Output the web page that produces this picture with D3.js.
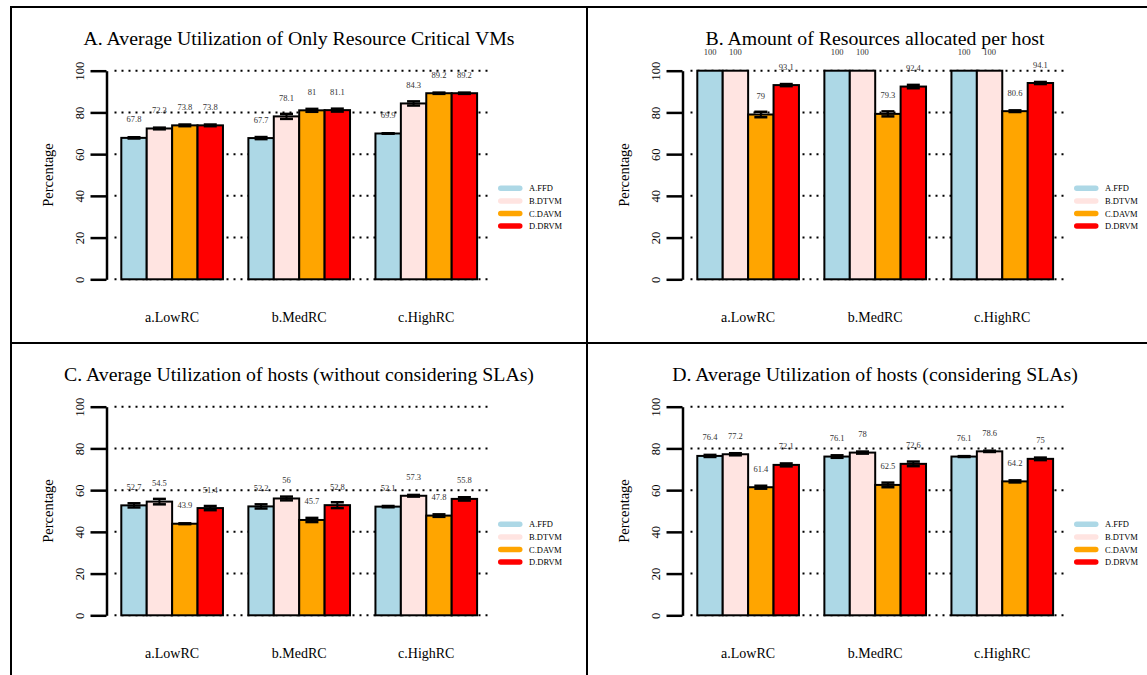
<!DOCTYPE html>
<html>
<head>
<meta charset="utf-8">
<script src="https://cdn.jsdelivr.net/npm/d3@7"></script>
<style>
  body { margin: 0; background: #fff; }
  svg text { font-family: "Liberation Serif", "Times New Roman", serif; }
</style>
</head>
<body>
<svg id="chart" width="1147" height="675"></svg>
<script>
'use strict';

var groups = ["a.LowRC", "b.MedRC", "c.HighRC"];
var series = ["A.FFD", "B.DTVM", "C.DAVM", "D.DRVM"];
var colors = ["#ADD8E6", "#FFE4E1", "#FFA500", "#FF0000"];
var yTicks = [0, 20, 40, 60, 80, 100];

var titles = [
  "A. Average Utilization of Only Resource Critical VMs",
  "B. Amount of Resources allocated per host",
  "C. Average Utilization of hosts (without considering SLAs)",
  "D. Average Utilization of hosts (considering SLAs)"
];

// rows = groups, columns = series
var valuesA = [[67.8, 72.3, 73.8, 73.8], [67.7, 78.1, 81, 81.1], [69.9, 84.3, 89.2, 89.2]];
var errorsA = [[0.3, 0.4, 0.4, 0.4], [0.5, 1.2, 0.7, 0.7], [0.1, 1.0, 0.3, 0.3]];
var valuesB = [[100, 100, 79, 93.1], [100, 100, 79.3, 92.4], [100, 100, 80.6, 94.1]];
var errorsB = [[0, 0, 1.3, 0.5], [0, 0, 1.2, 0.8], [0, 0, 0.4, 0.5]];
var valuesC = [[52.7, 54.5, 43.9, 51.4], [52.2, 56, 45.7, 52.8], [52.1, 57.3, 47.8, 55.8]];
var errorsC = [[1.0, 1.3, 0.2, 1.0], [1.0, 0.9, 1.0, 1.4], [0.3, 0.4, 0.6, 0.8]];
var valuesD = [[76.4, 77.2, 61.4, 72.1], [76.1, 78, 62.5, 72.6], [76.1, 78.6, 64.2, 75]];
var errorsD = [[0.5, 0.5, 0.7, 0.7], [0.6, 0.5, 1.1, 1.1], [0.2, 0.3, 0.5, 0.6]];

var panelValues = [valuesA, valuesB, valuesC, valuesD];
var panelErrors = [errorsA, errorsB, errorsC, errorsD];

var svg = d3.select("#chart");
var panelW = 576, panelH = 336;

var draw_panel = function(k) {
  var px = 11 + panelW * (k % 2);
  var py = 7 + panelH * Math.floor(k / 2);
  var vals = panelValues[k], errs = panelErrors[k];

  var g = svg.append("g").attr("transform", "translate(" + px + "," + py + ")");

  var y = d3.scaleLinear().domain([0, 100]).range([272.3, 63.7]);
  var x0 = d3.scaleBand().domain(groups).range([110.3, 466.1]).paddingInner(0.2);
  var x1 = d3.scaleBand().domain(series).range([0, x0.bandwidth()]);

  // dotted grid
  g.selectAll(".grid")
    .data(yTicks)
  .enter().append("line")
    .attr("class", "grid")
    .attr("x1", 103.5).attr("x2", 478)
    .attr("y1", function(d) { return y(d); })
    .attr("y2", function(d) { return y(d); })
    .attr("stroke", "#000")
    .attr("stroke-width", 2)
    .attr("stroke-dasharray", "2,5");

  // y axis
  var ax = g.append("g")
    .attr("transform", "translate(95.5,0)")
    .call(d3.axisLeft(y).tickValues(yTicks).tickSize(16).tickSizeOuter(0))
    .attr("font-family", null);
  ax.select(".domain").attr("stroke-width", 2.5);
  ax.selectAll(".tick line").attr("stroke-width", 2.5);
  ax.selectAll(".tick text")
    .attr("x", null).attr("dy", null)
    .attr("transform", "translate(-26.5,0) rotate(-90)")
    .attr("text-anchor", "middle")
    .attr("dominant-baseline", "central")
    .style("font-family", "'Liberation Serif', serif")
    .style("font-size", "12.5px")
    .attr("fill", "#000");

  // bars
  var bars = [];
  groups.forEach(function(grp, i) {
    series.forEach(function(s, j) {
      bars.push({grp: grp, s: s, j: j, v: vals[i][j], e: errs[i][j]});
    });
  });

  var bx = function(d) { return x0(d.grp) + x1(d.s); };
  var bw = x1.bandwidth();

  g.selectAll(".bar")
    .data(bars)
  .enter().append("rect")
    .attr("class", "bar")
    .attr("x", bx)
    .attr("y", function(d) { return y(d.v); })
    .attr("width", bw)
    .attr("height", function(d) { return y(0) - y(d.v); })
    .attr("fill", function(d) { return colors[d.j]; })
    .attr("stroke", "#000")
    .attr("stroke-width", 2);

  // error bars
  var eb = g.selectAll(".err")
    .data(bars.filter(function(d) { return d.e > 0; }))
  .enter().append("g").attr("class", "err");
  eb.append("line")
    .attr("x1", function(d) { return bx(d) + bw / 2; })
    .attr("x2", function(d) { return bx(d) + bw / 2; })
    .attr("y1", function(d) { return y(d.v - d.e); })
    .attr("y2", function(d) { return y(d.v + d.e); })
    .attr("stroke", "#000").attr("stroke-width", 2);
  [-1, 1].forEach(function(sg) {
    eb.append("line")
      .attr("x1", function(d) { return bx(d) + bw / 2 - 6.5; })
      .attr("x2", function(d) { return bx(d) + bw / 2 + 6.5; })
      .attr("y1", function(d) { return y(d.v + sg * d.e); })
      .attr("y2", function(d) { return y(d.v + sg * d.e); })
      .attr("stroke", "#000").attr("stroke-width", 2.5);
  });

  // value labels
  g.selectAll(".vlab")
    .data(bars)
  .enter().append("text")
    .attr("class", "vlab")
    .attr("x", function(d) { return bx(d) + bw / 2; })
    .attr("y", function(d) { return y(d.v) - 18.5; })
    .attr("text-anchor", "middle")
    .attr("dominant-baseline", "central")
    .attr("font-size", 8.5)
    .attr("fill", "#333")
    .text(function(d) { return d.v; });

  // group labels
  g.selectAll(".glab")
    .data(groups)
  .enter().append("text")
    .attr("class", "glab")
    .attr("x", function(d) { return x0(d) + x0.bandwidth() / 2; })
    .attr("y", 310)
    .attr("text-anchor", "middle")
    .attr("dominant-baseline", "central")
    .attr("font-size", 14)
    .text(function(d) { return d; });

  // title
  g.append("text")
    .attr("x", 288).attr("y", 31)
    .attr("text-anchor", "middle")
    .attr("dominant-baseline", "central")
    .attr("font-size", 19.8)
    .text(titles[k]);

  // y label
  g.append("text")
    .attr("transform", "translate(37,168) rotate(-90)")
    .attr("text-anchor", "middle")
    .attr("dominant-baseline", "central")
    .attr("font-size", 14.5)
    .text("Percentage");

  // legend
  var lg = g.selectAll(".leg")
    .data(series)
  .enter().append("g")
    .attr("class", "leg")
    .attr("transform", function(d, i) { return "translate(487," + (181.3 + i * 12.6) + ")"; });
  lg.append("rect")
    .attr("x", 0).attr("y", -2.75)
    .attr("width", 24.5).attr("height", 5.5)
    .attr("rx", 2.75)
    .attr("fill", function(d, i) { return colors[i]; });
  lg.append("text")
    .attr("x", 31).attr("y", 0)
    .attr("dominant-baseline", "central")
    .attr("font-size", 8.5)
    .text(function(d) { return d; });

  // panel frame
  g.append("rect")
    .attr("x", 0).attr("y", 0)
    .attr("width", panelW).attr("height", panelH)
    .attr("fill", "none")
    .attr("stroke", "#000")
    .attr("stroke-width", 2);
};

for (var k = 0; k < 4; k++) {
  draw_panel(k);
}
</script>
</body>
</html>
